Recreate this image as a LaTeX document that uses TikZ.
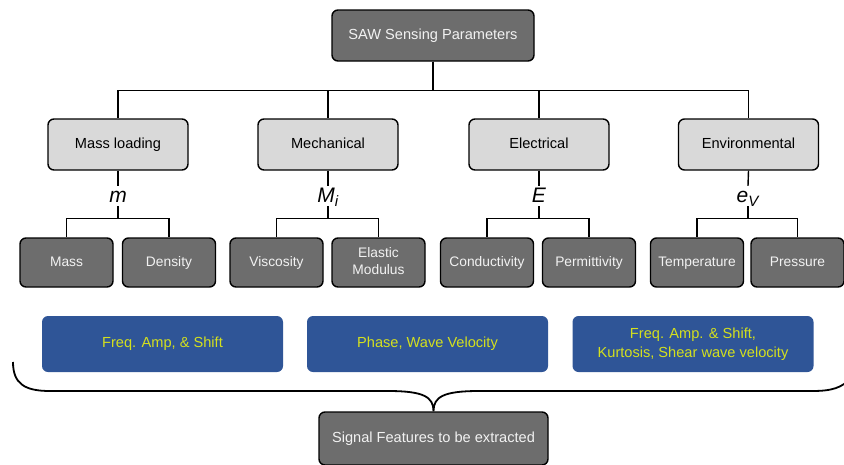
\documentclass[tikz,border=0pt]{standalone}
\usepackage{fontspec}
\setmainfont{Liberation Sans}
\definecolor{darkbox}{HTML}{6D6D6D}
\definecolor{lightbox}{HTML}{D9D9D9}
\definecolor{boxtext}{HTML}{F2F2F2}
\definecolor{featblue}{HTML}{2F5597}
\definecolor{feattext}{HTML}{D4E01E}
% invisible rule that fixes the height and depth of a text line
\newcommand\boxstrut{\rule[-3pt]{0pt}{14pt}}
\begin{document}
\begin{tikzpicture}[x=1pt,y=-1pt,
  struts/.style={execute at begin node=\boxstrut, execute at end node=\boxstrut},
  box/.style={draw=black, line width=1.4pt, rounded corners=6pt, inner sep=0pt, align=center, struts},
  rootbox/.style={box, fill=darkbox, text=boxtext, minimum width=202pt, minimum height=51pt,
    font=\fontsize{14.6}{17}\selectfont},
  catbox/.style={box, fill=lightbox, text=black, minimum width=140pt, minimum height=51pt,
    font=\fontsize{14.6}{17}\selectfont},
  leafbox/.style={box, fill=darkbox, text=boxtext, minimum width=93pt, minimum height=49pt,
    font=\fontsize{13.8}{17}\selectfont},
  featbox/.style={fill=featblue, rounded corners=6pt, inner sep=0pt, align=center, struts,
    text=feattext, minimum width=241pt, minimum height=56pt, font=\fontsize{14.6}{19}\selectfont},
  sym/.style={inner sep=0pt, text height=16pt, text depth=4pt, font=\fontsize{21}{21}\selectfont},
  conn/.style={draw=black, line width=1.4pt},
  brace/.style={draw=black, line width=1.8pt}
]
\clip (0,0) rectangle (844,464);

% root
\node[rootbox] (root) at (433,35.5) {SAW Sensing Parameters};

% categories
\node[catbox] (ml)  at (118,144.5) {Mass loading};
\node[catbox] (mec) at (328,144.5) {Mechanical};
\node[catbox] (ele) at (539,144.5) {Electrical};
\node[catbox] (env) at (748.5,144.5) {Environmental};

% parameter symbols
\node[sym] (sm) at (118,196) {\textit{m}};
\node[sym] (sM) at (328,196) {\textit{M}\lower4pt\hbox{\fontsize{15}{15}\selectfont\textit{i}}};
\node[sym] (sE) at (539,196) {\textit{E}};
\node[sym] (se) at (748,196) {\textit{e}\lower4pt\hbox{\fontsize{15}{15}\selectfont\textit{V}}};

% leaves
\node[leafbox] (mass) at (66.5,262.5) {Mass};
\node[leafbox] (dens) at (169,262.5) {Density};
\node[leafbox] (visc) at (276.5,262.5) {Viscosity};
\node[leafbox] (elas) at (378.5,262.5) {Elastic\\Modulus};
\node[leafbox] (cond) at (487,262.5) {Conductivity};
\node[leafbox] (perm) at (589,262.5) {Permittivity};
\node[leafbox] (temp) at (697,262.5) {Temperature};
\node[leafbox] (pres) at (797.5,262.5) {Pressure};

% signal features
\node[featbox] (f1) at (162.5,344) {Freq. Amp, \& Shift};
\node[featbox] (f2) at (427.5,344) {Phase, Wave Velocity};
\node[featbox] (f3) at (693,344) {Freq. Amp. \& Shift,\\Kurtosis, Shear wave velocity};

\node[rootbox, minimum width=229pt, minimum height=53pt] (sig) at (433.5,438.5) {Signal Features to be extracted};

% root to categories
\foreach \c in {ml,mec,ele,env}
  \draw[conn] (root.south) -- ++(0,29) -| (\c.north);

% categories to symbols to leaves
\foreach \c/\s/\a/\b in {ml/sm/mass/dens, mec/sM/visc/elas, ele/sE/cond/perm, env/se/temp/pres}{
  \draw[conn] (\c.south) -- (\s.north);
  \draw[conn] (\s.south) -- ++(0,12) -| (\a.north);
  \draw[conn] (\s.south) -- ++(0,12) -| (\b.north);
}

% brace gathering the features
\draw[brace] (13,362) .. controls (13,384) and (25,391) .. (50,391)
  -- (388,391) .. controls (424,391) and (433.5,397) .. (sig.north)
  .. controls (433.5,397) and (443,391) .. (479,391)
  -- (812,391) .. controls (832,391) and (842,388) .. (852,377);
\end{tikzpicture}
\end{document}
